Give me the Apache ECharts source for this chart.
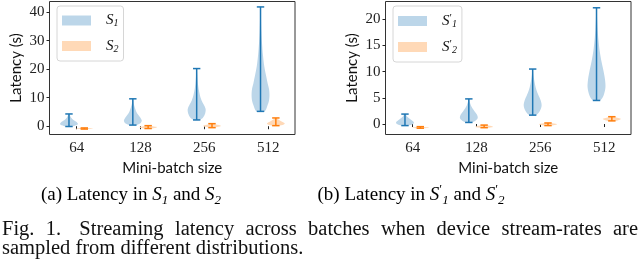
<!DOCTYPE html>
<html><head><meta charset="utf-8">
<script src="https://cdn.jsdelivr.net/npm/echarts@6/dist/echarts.min.js"></script>
<style>html,body{margin:0;padding:0;background:#fff}#c{width:640px;height:264px}</style>
</head><body><div id="c"></div>
<script>
// ---- data ----
const categories = ['64', '128', '256', '512'];
const catPositions = [1, 2, 3, 4];
const yTicksA = [0, 10, 20, 30, 40];
const yTicksB = [0, 5, 10, 15, 20];
// violin profiles: [latency value, relative density]
const violinS1 = [
  [[-0.1,0.35],[0.3,0.8],[0.8,1.0],[1.5,0.85],[2.2,0.5],[3,0.25],[3.8,0.12],[4.3,0.05]],
  [[0.4,0.4],[1,0.85],[2,1.0],[3,0.85],[4,0.6],[5,0.4],[6,0.28],[7,0.18],[8,0.1],[9,0.06],[9.6,0.03]],
  [[2.2,0.3],[3,0.7],[4.5,0.95],[6,1.0],[7.5,0.8],[9,0.55],[11,0.35],[13,0.22],[15,0.14],[17,0.09],[19,0.05],[20.2,0.03]],
  [[5.2,0.45],[7,0.75],[9,0.95],[11,1.0],[13,0.95],[15,0.8],[18,0.6],[21,0.42],[25,0.27],[29,0.17],[33,0.1],[37,0.06],[41.8,0.02]]
];
const violinS2 = [
  [[-1.0,0.3],[-0.85,1.0],[-0.7,0.6],[-0.6,0.2]],
  [[-0.8,0.3],[-0.5,0.9],[-0.3,1.0],[0,0.5],[0.2,0.15]],
  [[-0.5,0.2],[-0.2,0.7],[0.1,1.0],[0.4,0.8],[0.7,0.35],[0.9,0.1]],
  [[0.2,0.3],[0.6,0.9],[1.0,1.0],[1.5,0.75],[2.0,0.45],[2.5,0.2],[2.9,0.08]]
];
const violinS1p = [
  [[-0.3,0.4],[0,0.9],[0.3,1.0],[0.7,0.75],[1.1,0.45],[1.5,0.2],[1.9,0.06]],
  [[0.3,0.35],[0.7,0.8],[1.2,1.0],[1.8,0.9],[2.4,0.65],[3.0,0.4],[3.6,0.22],[4.2,0.1],[4.8,0.03]],
  [[1.7,0.35],[2.5,0.8],[3.5,1.0],[4.5,0.9],[5.5,0.65],[6.5,0.42],[7.5,0.27],[8.5,0.16],[9.5,0.08],[10.5,0.03]],
  [[4.5,0.4],[5.5,0.8],[7,1.0],[8.5,0.95],[10,0.8],[12,0.55],[14,0.35],[16,0.22],[18,0.13],[20,0.07],[22.2,0.02]]
];
const violinS2p = [
  [[-0.8,0.3],[-0.7,1.0],[-0.6,0.7],[-0.5,0.2]],
  [[-0.7,0.3],[-0.55,1.0],[-0.4,0.8],[-0.2,0.2]],
  [[-0.3,0.3],[-0.15,0.9],[0,1.0],[0.2,0.3]],
  [[0.6,0.4],[0.8,0.9],[1.0,1.0],[1.2,0.6],[1.4,0.2]]
];
const seriesNames = ['S1', 'S2', "S'1", "S'2"];
const captionA = ['(a) Latency in ', 'S', '1', ' and ', 'S', '2'];
const captionB = ['(b) Latency in ', 'S', '1', ' and ', 'S', '2'];
const figLine1 = ['Fig.', '1.', 'Streaming', 'latency', 'across', 'batches', 'when', 'device', 'stream-rates', 'are'];
const figLine2 = 'sampled from different distributions.';

// ---- styles ----
const BLUE = '#1f77b4', ORANGE = '#ff7f0e';
const BLUE_FILL = 'rgb(188,214,233)', ORANGE_FILL = 'rgb(255,217,183)';
const HALF = 0.14, CAP = 0.058, OFF = 0.12;
const SERIF = 'Liberation Serif';
const SANS = 'Lato';
const FIGFONT = '20.5px "Liberation Serif"';

function violinSeries(name, idx, shapes, offset, fill, line) {
  return {
    type: 'custom', name, xAxisIndex: idx, yAxisIndex: idx,
    itemStyle: { color: fill },
    data: shapes.map((s, i) => [catPositions[i] + offset, s[0][0], s[s.length - 1][0]]),
    encode: { x: 0, y: [1, 2] },
    renderItem: (params, api) => {
      const shape = shapes[params.dataIndex];
      const xc = api.value(0);
      const right = shape.map(([y, d]) => api.coord([xc + d * HALF, y]));
      const left = shape.slice().reverse().map(([y, d]) => api.coord([xc - d * HALF, y]));
      const lo = api.coord([xc, api.value(1)]), hi = api.coord([xc, api.value(2)]);
      const cl = api.coord([xc - CAP, 0])[0], cr = api.coord([xc + CAP, 0])[0];
      const ls = { stroke: line, lineWidth: 1.5 };
      return { type: 'group', children: [
        { type: 'polygon', shape: { points: right.concat(left), smooth: 0.3 }, style: { fill, stroke: null } },
        { type: 'line', shape: { x1: lo[0], y1: lo[1], x2: hi[0], y2: hi[1] }, style: ls },
        { type: 'line', shape: { x1: cl, y1: lo[1], x2: cr, y2: lo[1] }, style: ls },
        { type: 'line', shape: { x1: cl, y1: hi[1], x2: cr, y2: hi[1] }, style: ls }
      ] };
    }
  };
}

function xAxis(idx) {
  return {
    type: 'value', gridIndex: idx, min: 0.575, max: 4.42,
    name: 'Mini-batch size', nameLocation: 'middle', nameGap: 22,
    nameTextStyle: { fontFamily: SANS, fontSize: 15, color: '#111' },
    axisLine: { show: false },
    axisTick: { show: true, length: 3, customValues: catPositions, lineStyle: { color: '#222' } },
    axisLabel: { customValues: catPositions, margin: 6, fontFamily: SERIF, fontSize: 15, color: '#222',
      formatter: v => categories[Math.round(v) - 1] },
    splitLine: { show: false }
  };
}
function yAxis(idx, min, max, ticks) {
  return {
    type: 'value', gridIndex: idx, min, max,
    name: 'Latency (s)', nameLocation: 'middle', nameGap: 26,
    nameTextStyle: { fontFamily: SANS, fontSize: 15, color: '#111' },
    axisLine: { show: false },
    axisTick: { show: true, length: 3, customValues: ticks, lineStyle: { color: '#222' } },
    axisLabel: { customValues: ticks, margin: 5, fontFamily: SERIF, fontSize: 15, color: '#222' },
    splitLine: { show: false }
  };
}
const legendRich = {
  m: { fontFamily: SERIF, fontStyle: 'italic', fontSize: 15, color: '#111', lineHeight: 16, verticalAlign: 'middle' },
  p: { fontFamily: SERIF, fontSize: 11, color: '#111', lineHeight: 16, verticalAlign: 'top' },
  s: { fontFamily: SERIF, fontStyle: 'italic', fontSize: 10, color: '#111', lineHeight: 16, verticalAlign: 'bottom' }
};
function legendLabel(name) {
  const prime = name.indexOf("'") >= 0;
  const sub = name.slice(-1);
  return '{m|S}' + (prime ? '{p|′}' : '') + '{s|' + sub + '}';
}
function legend(names, left) {
  return {
    data: names, left, top: 6, orient: 'vertical', icon: 'rect',
    itemWidth: 29, itemHeight: 10, itemGap: 10,
    backgroundColor: 'rgba(255,255,255,0.8)', borderColor: '#d6d6d6', borderWidth: 1, borderRadius: 3,
    padding: [7, 5, 7, 5],
    formatter: legendLabel,
    textStyle: { padding: [0, 0, 0, 10], rich: legendRich }
  };
}

// caption helpers
const capRich = {
  n: { fontFamily: SERIF, fontSize: 19, color: '#111', lineHeight: 24, verticalAlign: 'middle' },
  m: { fontFamily: SERIF, fontStyle: 'italic', fontSize: 19, color: '#111', lineHeight: 24, verticalAlign: 'middle' },
  p: { fontFamily: SERIF, fontSize: 13, color: '#111', lineHeight: 24, verticalAlign: 'top' },
  s: { fontFamily: SERIF, fontStyle: 'italic', fontSize: 13, color: '#111', lineHeight: 20, verticalAlign: 'bottom' }
};
function capText(parts, prime) {
  return '{n|' + parts[0] + '}{m|' + parts[1] + '}' + (prime ? '{p|′}' : '') + '{s|' + parts[2] + '}' +
    '{n|' + parts[3] + '}{m|' + parts[4] + '}' + (prime ? '{p|′}' : '') + '{s|' + parts[5] + '}';
}
const mctx = document.createElement('canvas').getContext('2d');
mctx.font = FIGFONT;
function justify(words, x0, x1, y) {
  const widths = words.map(w => mctx.measureText(w).width);
  const weights = words.slice(0, -1).map((w, i) => (i === 1 ? 1.6 : 1));
  const totalW = widths.reduce((a, b) => a + b, 0);
  const unit = (x1 - x0 - totalW) / weights.reduce((a, b) => a + b, 0);
  let x = x0;
  return words.map((w, i) => {
    const el = { type: 'text', x, y, style: { text: w, font: FIGFONT, fill: '#111', verticalAlign: 'middle' } };
    x += widths[i] + (i < weights.length ? weights[i] * unit : 0);
    return el;
  });
}

const chart = echarts.init(document.getElementById('c'), null, { renderer: 'canvas' });
chart.setOption({
  animation: false,
  grid: [
    { left: 49.5, top: 1.5, width: 245.5, height: 133, show: true, borderColor: '#333', borderWidth: 1, backgroundColor: 'transparent' },
    { left: 385.5, top: 1.5, width: 245.5, height: 133, show: true, borderColor: '#333', borderWidth: 1, backgroundColor: 'transparent' }
  ],
  xAxis: [xAxis(0), xAxis(1)],
  yAxis: [yAxis(0, -2.9, 43.7, yTicksA), yAxis(1, -2.0, 23.4, yTicksB)],
  legend: [legend(seriesNames.slice(0, 2), 57), legend(seriesNames.slice(2), 393)],
  series: [
    violinSeries(seriesNames[0], 0, violinS1, -OFF, BLUE_FILL, BLUE),
    violinSeries(seriesNames[1], 0, violinS2, OFF, ORANGE_FILL, ORANGE),
    violinSeries(seriesNames[2], 1, violinS1p, -OFF, BLUE_FILL, BLUE),
    violinSeries(seriesNames[3], 1, violinS2p, OFF, ORANGE_FILL, ORANGE)
  ],
  graphic: [
    { type: 'text', x: 131, y: 195, style: { text: capText(captionA, false), rich: capRich, align: 'center', verticalAlign: 'middle' } },
    { type: 'text', x: 411, y: 195, style: { text: capText(captionB, true), rich: capRich, align: 'center', verticalAlign: 'middle' } },
    ...justify(figLine1, 2, 638, 230),
    { type: 'text', x: 2, y: 249, style: { text: figLine2, font: FIGFONT, fill: '#111', verticalAlign: 'middle' } }
  ]
});
</script></body></html>
